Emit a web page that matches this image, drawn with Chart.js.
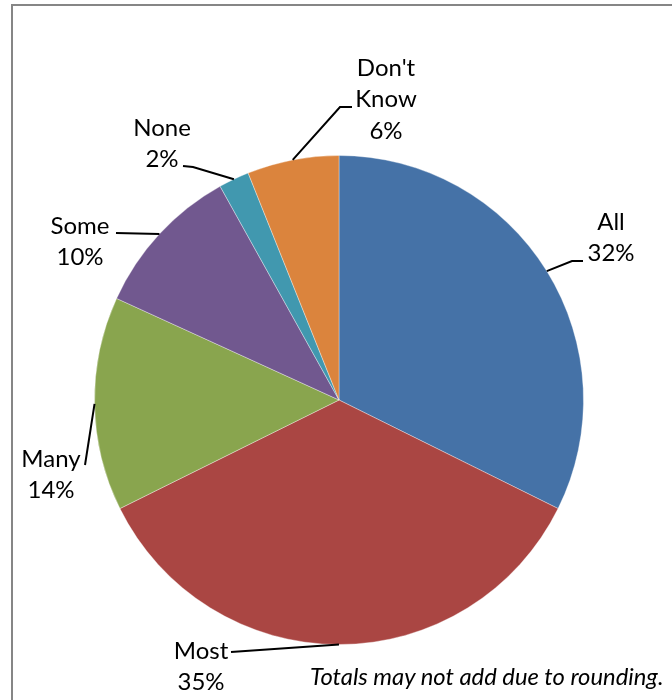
<!DOCTYPE html>
<html>
<head>
<meta charset="utf-8">
<script src="https://cdn.jsdelivr.net/npm/chart.js@4/dist/chart.umd.min.js"></script>
<style>
  html, body { margin: 0; padding: 0; background: #fff; overflow: hidden; }
  #wrap { position: relative; width: 672px; height: 700px; }
  #frame { position: absolute; left: 11px; top: 4px; width: 720px; height: 740px; border: 2px solid #868686; box-sizing: border-box; }
  #note { position: absolute; left: 310px; top: 662px; font: italic 23.8px Lato, sans-serif; color: #000; white-space: nowrap; }
  canvas { position: absolute; left: 0; top: 0; }
</style>
</head>
<body>
<div id="wrap">
  <div id="frame"></div>
  <canvas id="pie" width="672" height="700"></canvas>
  <div id="note">Totals may not add due to rounding.</div>
</div>
<script>
const categories = ['All', 'Most', 'Many', 'Some', 'None', "Don't Know"];
const shares = [32, 35, 14, 10, 2, 6];
const colors = ['#4572A7', '#AA4643', '#89A54E', '#71588F', '#4198AF', '#DB843D'];

// where each label sits and the elbow of its leader line (the line ends on the slice)
const labelLayout = [
  { lines: ['All', '32%'], x: 611, y: 222, leader: [[583, 261], [572, 261]] },
  { lines: ['Most', '35%'], x: 201, y: 651, leader: [[231, 652]] },
  { lines: ['Many', '14%'], x: 51, y: 459, leader: [[85, 465]] },
  { lines: ['Some', '10%'], x: 80, y: 226, leader: [[116, 233]] },
  { lines: ['None', '2%'], x: 162, y: 128, leader: [[183, 166], [193, 167]] },
  { lines: ["Don't", 'Know', '6%'], x: 386, y: 68, leader: [[352, 107], [340, 107]] },
];

const pieLabels = {
  id: 'pieLabels',
  afterDraw(chart) {
    const ctx = chart.ctx;
    const arcs = chart.getDatasetMeta(0).data;
    ctx.save();
    arcs.forEach((arc, i) => {
      const lay = labelLayout[i];
      const a = (arc.startAngle + arc.endAngle) / 2;
      const px = arc.x + Math.cos(a) * arc.outerRadius;
      const py = arc.y + Math.sin(a) * arc.outerRadius;
      ctx.strokeStyle = '#000';
      ctx.lineWidth = 2;
      ctx.beginPath();
      ctx.moveTo(lay.leader[0][0], lay.leader[0][1]);
      lay.leader.slice(1).forEach(p => ctx.lineTo(p[0], p[1]));
      ctx.lineTo(px, py);
      ctx.stroke();

      ctx.fillStyle = '#000';
      ctx.font = '24px Lato, sans-serif';
      ctx.textAlign = 'center';
      ctx.textBaseline = 'middle';
      lay.lines.forEach((t, j) => ctx.fillText(t, lay.x, lay.y + j * 31.5));
    });
    ctx.restore();
  }
};

new Chart(document.getElementById('pie').getContext('2d'), {
  type: 'pie',
  data: {
    labels: categories,
    datasets: [{
      data: shares,
      backgroundColor: colors,
      borderColor: 'rgba(255,255,255,0.35)',
      borderWidth: 1,
    }],
  },
  options: {
    responsive: false,
    animation: false,
    layout: { padding: { left: 94, right: 88, top: 155, bottom: 55 } },
    plugins: {
      legend: { display: false },
      tooltip: { enabled: false },
    },
  },
  plugins: [pieLabels],
});
</script>
</body>
</html>
